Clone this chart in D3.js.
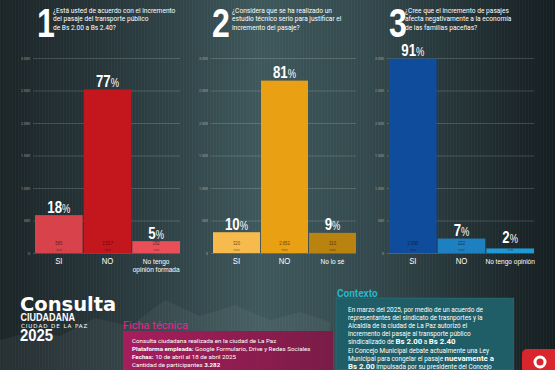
<!DOCTYPE html>
<html>
<head>
<meta charset="utf-8">
<script src="https://cdn.jsdelivr.net/npm/d3@7"></script>
<style>
  body { margin: 0; background: #1c2528; }
  svg { display: block; }
</style>
</head>
<body>
<svg width="555" height="370"></svg>
<script>
// --- data ---
const yTicks = [0, 500, 1000, 1500, 2000, 2500, 3000];

const q1Question = ['¿Está usted de acuerdo con el incremento', 'del pasaje del transporte público', 'de Bs 2.00 a Bs 2.40?'];
const q1Categories = ['SI', 'NO', 'No tengo|opinión formada'];
const q1Votes = [583, 2517, 182];
const q1Percents = [18, 77, 5];
const q1Colors = ['#d8424a', '#c3161d', '#ea4f59'];

const q2Question = ['¿Considera que se ha realizado un', 'estudio técnico serio para justificar el', 'incremento del pasaje?'];
const q2Categories = ['SI', 'NO', 'No lo sé'];
const q2Votes = [320, 2652, 310];
const q2Percents = [10, 81, 9];
const q2Colors = ['#f6bb4c', '#e9a012', '#ba820f'];

const q3Question = ['¿Cree que el incremento de pasajes', 'afecta negativamente a la economía', 'de las familias paceñas?'];
const q3Categories = ['SI', 'NO', 'No tengo opinión'];
const q3Votes = [2990, 222, 70];
const q3Percents = [91, 7, 2];
const q3Colors = ['#0f4c9c', '#1c80c1', '#209ad6'];

const fichaLines = [
    ['', 'Consulta ciudadana realizada en la ciudad de La Paz'],
    ['Plataforma empleada: ', 'Google Formulario, Drive y Redes Sociales'],
    ['Fechas: ', '10 de abril al 18 de abril 2025'],
    ['', 'Cantidad de participantes ', '3.282']
];
const contextoLines = [
    ['En marzo del 2025, por medio de un acuerdo de'],
    ['representantes del sindicato de trasnportes y la'],
    ['Alcaldía de la ciudad de La Paz autorizó el'],
    ['incremento del pasaje al transporte público'],
    ['sindicalizado de ', 'Bs 2.00', ' a ', 'Bs 2.40'],
    ['El Concejo Municipal debate actualmente una Ley'],
    ['Municipal para congelar el pasaje ', 'nuevamente a'],
    ['Bs 2.00', ' impulsada por su presidente del Concejo']
];

const svg = d3.select('svg');
const width = +svg.attr('width');
const height = +svg.attr('height');

const locale = d3.formatLocale({decimal: ',', thousands: '.', grouping: [3], currency: ['', '']});
const fmt = locale.format(',d');
const NARROW = '"Liberation Sans", Arial, sans-serif';

// background
const defs = svg.append('defs');
const bg = defs.append('linearGradient').attr('id', 'bg');
bg.append('stop').attr('offset', '0%').attr('stop-color', '#1b2427');
bg.append('stop').attr('offset', '25%').attr('stop-color', '#2b3c40');
bg.append('stop').attr('offset', '47%').attr('stop-color', '#3e585c');
bg.append('stop').attr('offset', '68%').attr('stop-color', '#32474b');
bg.append('stop').attr('offset', '100%').attr('stop-color', '#151d20');
const stripes = defs.append('pattern').attr('id', 'stripes')
    .attr('width', 3).attr('height', 10).attr('patternUnits', 'userSpaceOnUse');
stripes.append('rect').attr('width', 1).attr('height', 10).attr('fill', 'rgba(255,255,255,0.03)');
const ficha = defs.append('linearGradient').attr('id', 'ficha');
ficha.append('stop').attr('offset', '0%').attr('stop-color', '#a81d5c');
ficha.append('stop').attr('offset', '100%').attr('stop-color', '#7a1c47');

svg.append('rect').attr('width', width).attr('height', height).attr('fill', 'url(#bg)');
svg.append('rect').attr('width', width).attr('height', height).attr('fill', 'url(#stripes)');
// faint mountain silhouette
svg.append('path')
    .attr('d', 'M0,340 L30,332 L60,336 L95,318 L130,326 L165,300 L200,316 L235,305 L270,320 L300,312 L330,322 L330,370 L0,370 Z')
    .attr('fill', 'rgba(255,255,255,0.05)');

const y = d3.scaleLinear().domain([0, 3000]).range([253, 58]);

// condensed text: squeeze horizontally around its anchor
function narrow(sel, sx) {
    return sel.attr('transform', function () {
        const tx = +this.getAttribute('data-x');
        const ty = +this.getAttribute('data-y');
        return `translate(${tx},${ty}) scale(${sx},1)`;
    });
}

function drawPanel(num, numX, question, qX, cats, votes, pcts, colors, x0, x1) {
    const g = svg.append('g');
    const x = d3.scaleBand().domain(cats).range([x0, x1]).paddingInner(0.02);
    const cxOf = (d) => x(d) + x.bandwidth() / 2;

    g.append('text')
        .attr('data-x', numX).attr('data-y', 37).call(narrow, 0.8)
        .attr('font-family', NARROW)
        .attr('font-size', 40).attr('font-weight', 'bold').attr('fill', '#fff')
        .text(num);
    g.append('g').selectAll('text').data(question).join('text')
        .attr('x', qX).attr('y', (d, i) => 12.5 + i * 8.6)
        .attr('font-family', 'Roboto, sans-serif').attr('font-size', 6.6)
        .attr('fill', '#fff').text((d) => d);

    const axis = g.append('g')
        .attr('transform', `translate(${x0 - 2},0)`)
        .call(d3.axisLeft(y).tickValues(yTicks).tickSize(-(x1 - x0 + 2)).tickPadding(3)
            .tickFormat((d) => fmt(d)));
    axis.select('.domain').remove();
    axis.selectAll('line').attr('stroke', 'rgba(255,255,255,0.28)').attr('stroke-width', 0.6);
    axis.selectAll('text').attr('font-size', 3.6).attr('fill', 'rgba(255,255,255,0.5)')
        .attr('font-family', 'Roboto, sans-serif');

    g.append('g').selectAll('rect').data(cats).join('rect')
        .attr('x', (d) => x(d)).attr('width', x.bandwidth())
        .attr('y', (d, i) => y(votes[i])).attr('height', (d, i) => y(0) - y(votes[i]))
        .attr('fill', (d, i) => colors[i]);

    const pl = g.append('g').selectAll('text').data(cats).join('text')
        .attr('data-x', cxOf).attr('data-y', (d, i) => Math.min(y(votes[i]), 245.5) - 2.5)
        .call(narrow, 0.78)
        .attr('font-family', NARROW)
        .attr('text-anchor', 'middle').attr('fill', '#fff').attr('font-weight', 'bold');
    pl.append('tspan').attr('font-size', 17).text((d, i) => pcts[i]);
    pl.append('tspan').attr('font-size', 12).attr('font-weight', 'normal').text('%');

    g.append('g').selectAll('text').data(cats).join('text')
        .attr('data-x', cxOf).attr('data-y', 245).call(narrow, 0.85)
        .attr('text-anchor', 'middle').attr('font-family', NARROW)
        .attr('font-size', 5).attr('fill', 'rgba(20,10,10,0.7)')
        .text((d, i) => fmt(votes[i]));
    g.append('g').selectAll('text').data(cats).join('text')
        .attr('x', cxOf).attr('y', 250.6)
        .attr('text-anchor', 'middle').attr('font-family', 'Roboto, sans-serif')
        .attr('font-size', 2.6).attr('fill', 'rgba(20,10,10,0.55)')
        .text('votos');

    const cl = g.append('g').selectAll('text').data(cats).join('text')
        .attr('data-x', cxOf).attr('data-y', 264).call(narrow, 0.82)
        .attr('font-family', NARROW)
        .attr('text-anchor', 'middle').attr('fill', '#fff');
    cl.selectAll('tspan').data((d) => d.split('|')).join('tspan')
        .attr('x', 0)
        .attr('dy', (d, i) => i ? 8.5 : 0)
        .attr('font-size', (d) => d.length > 3 ? 8 : 9.5)
        .text((d) => d);
}

drawPanel('1', 37, q1Question, 53, q1Categories, q1Votes, q1Percents, q1Colors, 35, 180);
drawPanel('2', 212, q2Question, 232, q2Categories, q2Votes, q2Percents, q2Colors, 213, 356);
drawPanel('3', 389, q3Question, 405, q3Categories, q3Votes, q3Percents, q3Colors, 389, 534);

// --- bottom block ---
const title = svg.append('g').attr('fill', '#fff').attr('font-family', '"DejaVu Sans", sans-serif');
title.append('text').attr('x', 20).attr('y', 310.5).attr('font-size', 19.5).attr('font-weight', 'bold')
    .attr('letter-spacing', 0).text('Consulta');
title.append('text').attr('data-x', 20.5).attr('data-y', 320.5).call(narrow, 0.9)
    .attr('font-family', NARROW).attr('font-size', 10).attr('font-weight', 'bold')
    .text('CIUDADANA');
title.append('text').attr('x', 21).attr('y', 327.5).attr('font-size', 5.6).attr('letter-spacing', 0.9)
    .text('CIUDAD DE LA PAZ');
title.append('text').attr('data-x', 20).attr('data-y', 340.5).call(narrow, 0.9)
    .attr('font-family', NARROW).attr('font-size', 16.5).attr('font-weight', 'bold')
    .text('2025');

svg.append('rect').attr('x', 123).attr('y', 331).attr('width', 210).attr('height', 40).attr('fill', 'url(#ficha)');
svg.append('text').attr('x', 123).attr('y', 328.5).attr('font-family', 'Roboto, sans-serif')
    .attr('font-size', 11).attr('fill', '#e9258f').text('Ficha técnica');
const fl = svg.append('g').selectAll('text').data(fichaLines).join('text')
    .attr('x', 132).attr('y', (d, i) => 343 + i * 8.1)
    .attr('font-family', 'Roboto, sans-serif').attr('font-size', 6.2).attr('fill', '#fff');
fl.selectAll('tspan').data((d) => d).join('tspan')
    .attr('font-weight', (d, i, n) => (n.length === 2 && i === 0) || i === 2 ? 'bold' : 'normal')
    .text((d) => d);

svg.append('rect').attr('x', 336).attr('y', 298).attr('width', 178).attr('height', 72)
    .attr('fill', '#1f5e66').attr('stroke', 'rgba(255,255,255,0.08)');
svg.append('text').attr('x', 337).attr('y', 297).attr('font-family', 'Roboto, sans-serif')
    .attr('font-weight', 'bold').attr('font-size', 10)
    .attr('fill', '#22b8cc').text('Contexto');
const cx = svg.append('g').selectAll('text').data(contextoLines).join('text')
    .attr('x', 348).attr('y', (d, i) => 312 + i * 8.1)
    .attr('font-family', 'Roboto, sans-serif').attr('font-size', 6.4).attr('fill', '#fff');
cx.selectAll('tspan').data((d) => d).join('tspan')
    .attr('font-weight', (d) => /Bs 2|nuevamente/.test(d) ? 'bold' : 'normal')
    .attr('font-size', (d) => /Bs 2|nuevamente/.test(d) ? 7.8 : 6.4)
    .text((d) => d);

// corner logo
svg.append('rect').attr('x', 522).attr('y', 349).attr('width', 40).attr('height', 30).attr('rx', 5)
    .attr('fill', '#d8262c');
svg.append('circle').attr('cx', 540).attr('cy', 362).attr('r', 5).attr('fill', 'none')
    .attr('stroke', '#fff').attr('stroke-width', 3);
</script>
</body>
</html>
